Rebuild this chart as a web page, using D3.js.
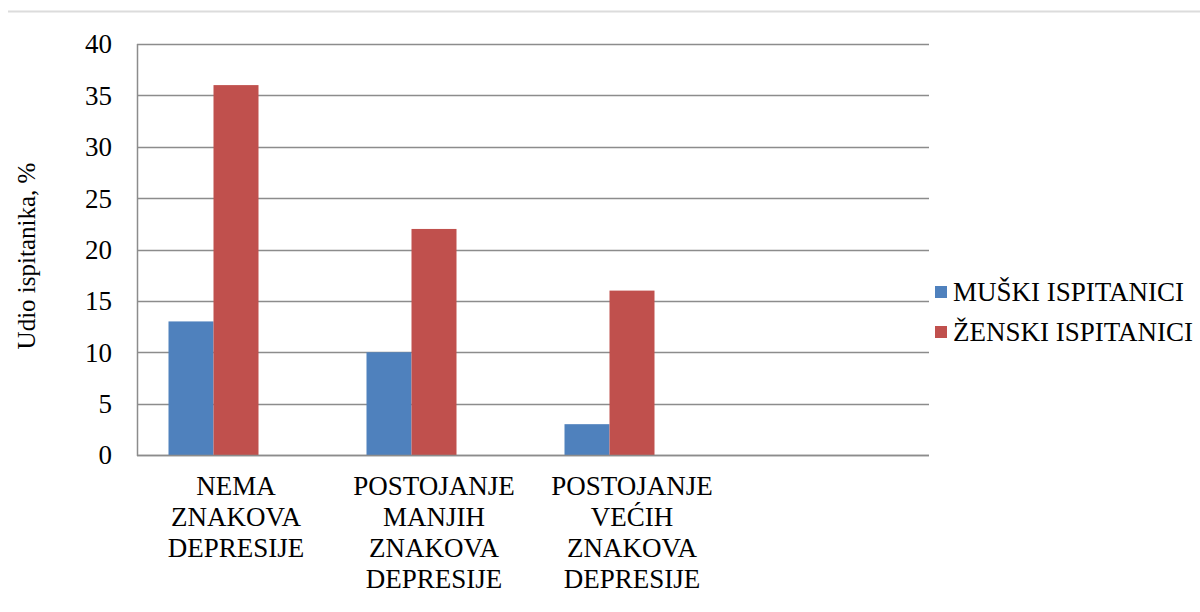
<!DOCTYPE html>
<html><head><meta charset="utf-8">
<script src="https://cdn.jsdelivr.net/npm/d3@7"></script>
</head><body style="margin:0;background:#fff">
<svg id="c" width="1200" height="612" font-family="Liberation Serif, Times New Roman, serif" style="font-family:'Liberation Serif','Times New Roman',serif"></svg>
<script>
const categories = [["NEMA","ZNAKOVA","DEPRESIJE"],["POSTOJANJE","MANJIH","ZNAKOVA","DEPRESIJE"],["POSTOJANJE","VEĆIH","ZNAKOVA","DEPRESIJE"],[]];
const seriesNames = ["MUŠKI ISPITANICI","ŽENSKI ISPITANICI",""];
const muski = [13,10,3,null];
const zenski = [36,22,16,null];
const treca = [null,null,null,null];
const yTicks = [0,5,10,15,20,25,30,35,40];
const colors = ["#4F81BD","#C0504D","#9BBB59"];
const yTitle = "Udio ispitanika, %";
const FONT = "'Liberation Serif', 'Times New Roman', serif";

const svg = d3.select("#c");
const m = {l:137,r:929,t:44,b:455};
svg.append("line").attr("x1",8).attr("x2",1200).attr("y1",11.5).attr("y2",11.5).attr("stroke","#dcdcdc").attr("stroke-width",2);

const x = d3.scaleBand().domain(d3.range(categories.length)).range([m.l,m.r]).paddingInner(0).paddingOuter(0);
const y = d3.scaleLinear().domain([0,40]).range([m.b,m.t]);
const series = [muski,zenski,treca];
const inner = d3.scaleBand().domain(d3.range(series.length)).range([0,x.bandwidth()]).paddingOuter(0.7).paddingInner(0);

svg.append("g").selectAll("line").data(yTicks).join("line")
  .attr("x1",m.l).attr("x2",m.r).attr("y1",d=>Math.round(y(d))+0.5).attr("y2",d=>Math.round(y(d))+0.5)
  .attr("stroke","#8c8c8c").attr("stroke-width",1.3);
svg.append("line").attr("x1",m.l+0.5).attr("x2",m.l+0.5).attr("y1",m.t).attr("y2",m.b+1).attr("stroke","#8c8c8c").attr("stroke-width",1.5);

series.forEach((s,si)=>{
  svg.append("g").selectAll("rect").data(s.map((v,i)=>({v,i})).filter(d=>d.v!=null)).join("rect")
    .attr("x",d=>x(d.i)+inner(si)).attr("width",inner.bandwidth())
    .attr("y",d=>y(d.v)).attr("height",d=>y(0)-y(d.v)).attr("fill",colors[si]);
});
svg.append("line").attr("x1",m.l).attr("x2",m.r).attr("y1",m.b+0.5).attr("y2",m.b+0.5).attr("stroke","#8c8c8c").attr("stroke-width",1.5);

const txt = svg.append("g").attr("font-family",FONT).style("font-family",FONT);

txt.append("g").selectAll("text").data(yTicks).join("text")
  .attr("x",112).attr("y",d=>y(d)).attr("dy","0.35em").attr("text-anchor","end")
  .style("font-family",FONT).style("font-size","27px").attr("fill","#000").text(d=>d);

const cg = txt.append("g").selectAll("text").data(categories).join("text")
  .attr("x",(d,i)=>x(i)+x.bandwidth()/2).attr("y",495).attr("text-anchor","middle")
  .style("font-family",FONT).style("font-size","27px").attr("fill","#000");
cg.selectAll("tspan").data(d=>d).join("tspan").attr("x",function(){return this.parentNode.getAttribute("x");})
  .attr("dy",(d,i)=>i===0?0:31).style("font-family",FONT).text(d=>d);

txt.append("text").attr("transform","translate(35,256) rotate(-90)").attr("text-anchor","middle")
  .style("font-family",FONT).style("font-size","25px").attr("fill","#000").text(yTitle);

const lg = txt.append("g").selectAll("g").data(seriesNames.slice(0,2)).join("g")
  .attr("transform",(d,i)=>`translate(935,${292+i*40})`);
lg.append("rect").attr("x",0).attr("y",-6).attr("width",12).attr("height",12).attr("fill",(d,i)=>colors[i]);
lg.append("text").attr("x",18).attr("y",0).attr("dy","0.35em").style("font-family",FONT).style("font-size","27px").attr("fill","#000").text(d=>d);
</script>
</body></html>
